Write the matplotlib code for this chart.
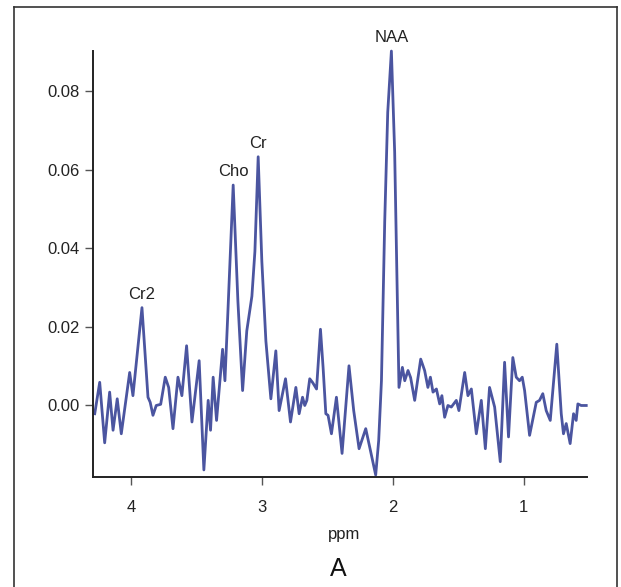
import numpy as np
import matplotlib.pyplot as plt
from matplotlib.lines import Line2D

plt.rcParams['font.family'] = ['Liberation Sans', 'DejaVu Sans']

# espectro (ppm, intensidad)
ppm = [4.277, 4.239, 4.201, 4.163, 4.137, 4.105, 4.074, 4.010, 3.985, 3.916,
       3.870, 3.853, 3.832, 3.807, 3.773, 3.738, 3.712, 3.679, 3.641, 3.611,
       3.575, 3.534, 3.479, 3.443, 3.410, 3.392, 3.372, 3.346, 3.300, 3.282,
       3.260, 3.219, 3.183, 3.147, 3.115, 3.076, 3.053, 3.028, 3.000, 2.969,
       2.931, 2.893, 2.868, 2.819, 2.781, 2.740, 2.715, 2.689, 2.672, 2.656,
       2.634, 2.611, 2.582, 2.552, 2.532, 2.511, 2.494, 2.468, 2.430, 2.387,
       2.334, 2.298, 2.257, 2.206, 2.130, 2.107, 2.086, 2.061, 2.038, 2.010,
       1.985, 1.967, 1.952, 1.926, 1.908, 1.883, 1.863, 1.832, 1.786, 1.756,
       1.731, 1.712, 1.692, 1.666, 1.641, 1.624, 1.603, 1.578, 1.552, 1.514,
       1.494, 1.450, 1.425, 1.399, 1.361, 1.323, 1.292, 1.260, 1.221, 1.178,
       1.145, 1.115, 1.082, 1.056, 1.031, 1.010, 0.992, 0.954, 0.903, 0.878,
       0.853, 0.827, 0.796, 0.746, 0.712, 0.695, 0.674, 0.644, 0.618, 0.598,
       0.585, 0.560, 0.521]
intensity = [-0.0021, 0.0059, -0.0095, 0.0034, -0.0063, 0.0017, -0.0072, 0.0084, 0.0025, 0.0249,
             0.0021, 0.0008, -0.0025, 0.0000, 0.0003, 0.0072, 0.0046, -0.0059, 0.0072, 0.0025,
             0.0152, -0.0042, 0.0114, -0.0164, 0.0013, -0.0063, 0.0072, -0.0038, 0.0143, 0.0063,
             0.0233, 0.0561, 0.0266, 0.0038, 0.0190, 0.0278, 0.0392, 0.0633, 0.0367, 0.0164,
             0.0017, 0.0139, -0.0013, 0.0068, -0.0042, 0.0046, -0.0021, 0.0021, 0.0000, 0.0013,
             0.0068, 0.0058, 0.0042, 0.0194, 0.0097, -0.0021, -0.0025, -0.0072, 0.0021, -0.0122,
             0.0101, -0.0013, -0.0110, -0.0059, -0.0177, -0.0089, 0.0063, 0.0468, 0.0746, 0.0902,
             0.0645, 0.0316, 0.0046, 0.0097, 0.0063, 0.0089, 0.0071, 0.0013, 0.0118, 0.0089,
             0.0046, 0.0072, 0.0034, 0.0042, 0.0004, 0.0025, -0.0030, 0.0000, -0.0004, 0.0013,
             -0.0013, 0.0084, 0.0025, 0.0042, -0.0072, 0.0013, -0.0110, 0.0046, -0.0004, -0.0143,
             0.0110, -0.0080, 0.0122, 0.0072, 0.0063, 0.0072, 0.0038, -0.0076, 0.0008, 0.0013,
             0.0030, -0.0013, -0.0038, 0.0156, -0.0021, -0.0072, -0.0046, -0.0097, -0.0021, -0.0038,
             0.0004, 0.0000, 0.0000]

# picos con nombre
peak_names = ['Cr2', 'Cho', 'Cr', 'NAA']
peak_ppm = [3.916, 3.219, 3.028, 2.010]

yticks = [0.00, 0.02, 0.04, 0.06, 0.08]
xticks = [4, 3, 2, 1]

fig = plt.figure(figsize=(6.21, 5.87), dpi=100)
ax = fig.add_axes([0.1498, 0.1874, 0.7955, 0.7256])

ax.plot(ppm, intensity, color='#4B55A0', lw=2.0, solid_joinstyle='round', clip_on=False)

x = np.array(ppm)
y = np.array(intensity)
for name, p in zip(peak_names, peak_ppm):
    i = np.argmin(np.abs(x - p))
    ax.annotate(name, xy=(x[i], y[i]), xytext=(0, 9.5), textcoords='offset points',
                ha='center', va='center', fontsize=12, color='#222222')

ax.set_xlim(4.29, 0.515)
ax.set_ylim(-0.0182, 0.0902)
ax.set_xticks(xticks)
ax.set_yticks(yticks)
ax.set_yticklabels(['%.2f' % t for t in yticks])
for s in ['top', 'right']:
    ax.spines[s].set_visible(False)
for s in ['left', 'bottom']:
    ax.spines[s].set_color('#222222')
    ax.spines[s].set_linewidth(1.4)
ax.tick_params(axis='both', length=5.5, width=1, color='#555555', labelsize=12, labelcolor='#222222')
ax.tick_params(axis='x', pad=11)
ax.tick_params(axis='y', pad=4)

ax.set_xlabel('ppm', fontsize=12, color='#222222', va='center')
ax.xaxis.set_label_coords(0.508, -0.136)

fig.text(338 / 621, 1 - 569 / 587, 'A', ha='center', va='center', fontsize=18, color='#111111')

# marco alrededor de la figura
fx0, fx1, fy1 = 14 / 621, 617 / 621, 1 - 7 / 587
for xs, ys in [([fx0, fx0], [0, fy1]), ([fx0, fx1], [fy1, fy1]), ([fx1, fx1], [fy1, 0])]:
    fig.add_artist(Line2D(xs, ys, color='#333333', lw=1.2, transform=fig.transFigure))

fig.savefig('out.png', dpi=100)
